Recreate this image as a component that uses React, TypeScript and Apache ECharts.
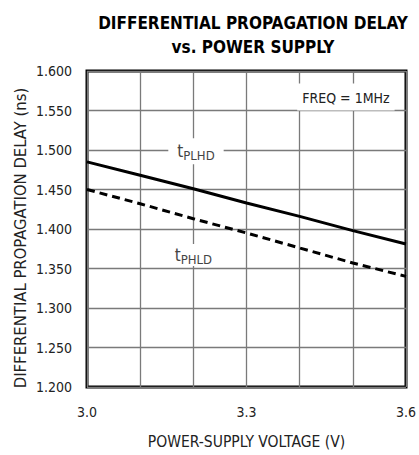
import React, { useEffect, useRef } from "react";
import * as echarts from "echarts";

const voltages = [3.0, 3.1, 3.2, 3.3, 3.4, 3.5, 3.6];
const tPLHD = [1.485, 1.468, 1.451, 1.433, 1.416, 1.398, 1.381];
const tPHLD = [1.45, 1.432, 1.413, 1.395, 1.376, 1.357, 1.34];
const titleLines = ["DIFFERENTIAL PROPAGATION DELAY", "vs. POWER SUPPLY"];
const xName = "POWER-SUPPLY VOLTAGE (V)";
const yName = "DIFFERENTIAL PROPAGATION DELAY (ns)";
const freqNote = "FREQ = 1MHz";

const FONT = "'Liberation Sans Narrow', 'DejaVu Sans Condensed', 'Roboto Condensed', 'Liberation Sans', sans-serif";

export default function App() {
  const ref = useRef<HTMLDivElement>(null);
  useEffect(() => {
    if (!ref.current) return;
    const chart = echarts.init(ref.current, null, { renderer: "svg" });
    const labelPoint = (coord: number[], formatter: string, padding: number[]) => ({
      coord,
      symbol: "rect",
      symbolSize: [1, 1],
      itemStyle: { color: "rgba(0,0,0,0)" },
      label: {
        show: true,
        position: "inside",
        formatter,
        backgroundColor: "#fff",
        padding,
        color: "#333",
        fontFamily: FONT,
        rich: {
          t: { fontSize: 17, fontFamily: FONT, color: "#444" },
          s: { fontSize: 13, fontFamily: FONT, color: "#444", padding: [9, 0, 0, 0] },
          f: { fontSize: 14, fontFamily: FONT, color: "#222" },
        },
      },
    });
    chart.setOption({
      animation: false,
      backgroundColor: "#fff",
      title: {
        text: titleLines.join("\n"),
        left: 248,
        textAlign: "center",
        top: 6,
        textStyle: {
          fontFamily: FONT,
          fontWeight: "bold",
          fontSize: 17,
          lineHeight: 24,
          color: "#000",
        },
      },
      graphic: [
        {
          type: "text",
          x: 20,
          y: 238,
          rotation: Math.PI / 2,
          style: {
            text: yName,
            fontFamily: FONT,
            fontSize: 16.5,
            fill: "#222",
            align: "center",
            verticalAlign: "middle",
          },
        },
      ],
      grid: {
        left: 87,
        right: 6,
        top: 71,
        bottom: 61,
        show: true,
        borderColor: "#000",
        borderWidth: 3,
      },
      xAxis: {
        type: "value",
        min: 3.0,
        max: 3.6,
        interval: 0.1,
        name: xName,
        nameLocation: "middle",
        nameGap: 47,
        nameTextStyle: { fontFamily: FONT, fontSize: 15.5, color: "#222" },
        axisLine: { show: false },
        axisTick: { show: false },
        axisLabel: {
          fontFamily: FONT,
          fontSize: 14,
          color: "#222",
          margin: 18,
          showMaxLabel: true,
          formatter: (v: number) => (Math.round(v * 10) % 3 === 0 ? v.toFixed(1) : ""),
        },
        splitLine: { show: true, lineStyle: { color: "#7a7a7a", width: 1.3 } },
      },
      yAxis: {
        type: "value",
        min: 1.2,
        max: 1.6,
        interval: 0.05,
        axisLine: { show: false },
        axisTick: { show: false },
        axisLabel: {
          fontFamily: FONT,
          fontSize: 14,
          color: "#222",
          margin: 15,
          formatter: (v: number) => v.toFixed(3),
        },
        splitLine: { show: true, lineStyle: { color: "#7a7a7a", width: 1.3 } },
      },
      series: [
        {
          type: "line",
          name: "tPLHD",
          data: voltages.map((v, i) => [v, tPLHD[i]]),
          showSymbol: false,
          lineStyle: { color: "#000", width: 3 },
          z: 3,
          markPoint: {
            silent: true,
            data: [
              labelPoint([3.205, 1.4985], "{t|t}{s|PLHD}", [2, 9, 2, 9]),
              labelPoint([3.487, 1.567], "{f|" + freqNote + "}", [7, 5, 6, 5]),
            ],
          },
        },
        {
          type: "line",
          name: "tPHLD",
          data: voltages.map((v, i) => [v, tPHLD[i]]),
          showSymbol: false,
          lineStyle: { color: "#000", width: 3, type: [8, 5] },
          z: 3,
          markPoint: {
            silent: true,
            data: [labelPoint([3.2, 1.367], "{t|t}{s|PHLD}", [0, 9, 0, 9])],
          },
        },
      ],
    });
    return () => chart.dispose();
  }, []);
  return (
    <div
      ref={ref}
      style={{ position: "fixed", left: 0, top: 0, width: 419, height: 455 }}
    />
  );
}
